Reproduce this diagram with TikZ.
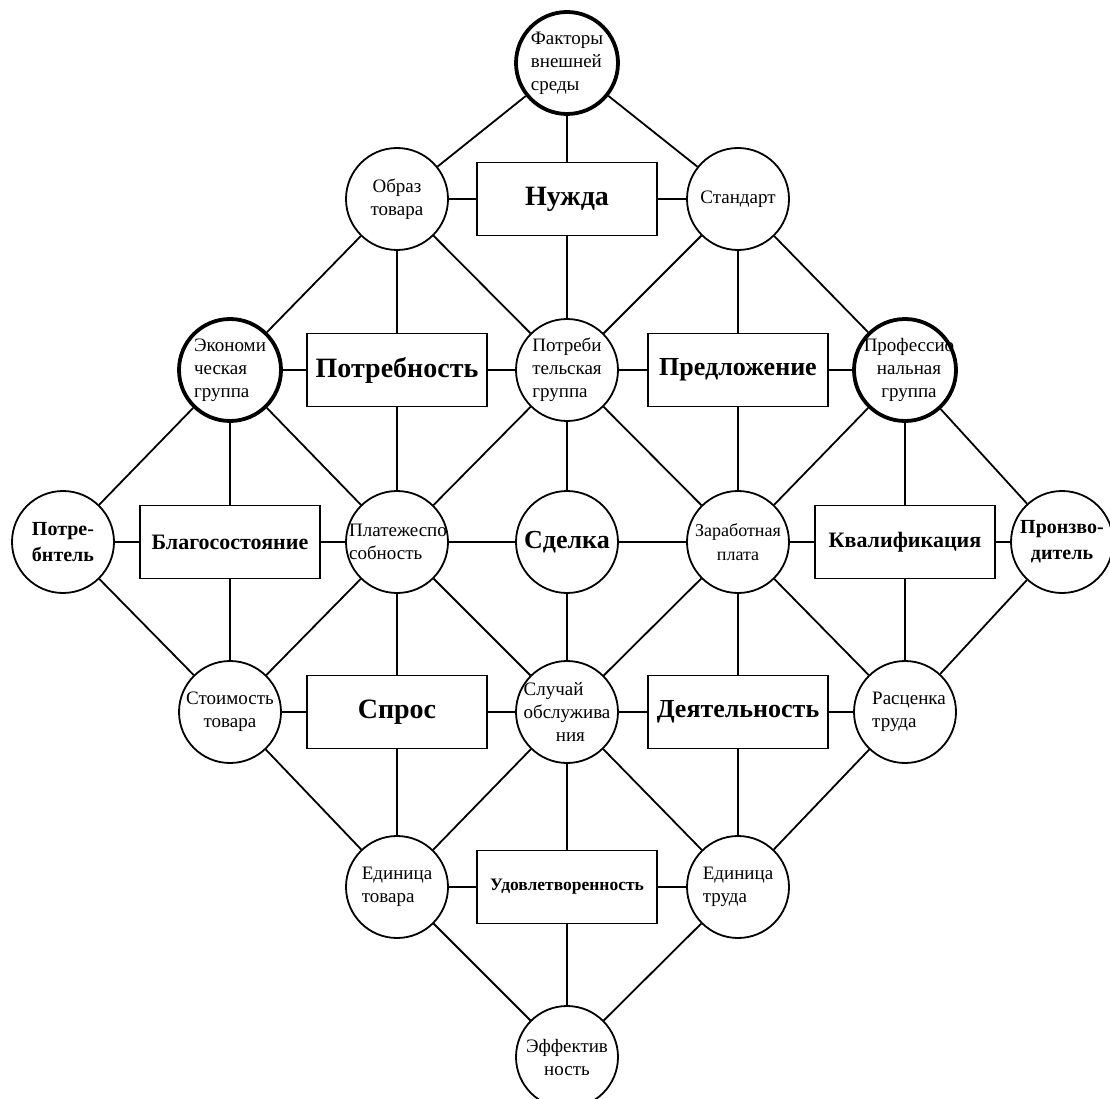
\documentclass[tikz,border=0pt]{standalone}
\usepackage{fontspec}
\setmainfont{Liberation Serif}
\begin{document}
\begin{tikzpicture}[x=1pt,y=-1pt,
  circ/.style={circle,draw,line width=1.8pt,minimum size=102pt,inner sep=0pt},
  thickc/.style={circ,line width=3.8pt},
  box/.style={rectangle,draw,line width=1.8pt,minimum width=180pt,minimum height=73pt,inner sep=0pt},
  ctext/.style={font=\fontsize{19}{23}\selectfont,align=center,inner sep=0pt},
  ltext/.style={ctext,align=left},
  btext/.style={font=\bfseries\fontsize{20}{26}\selectfont,align=center,inner sep=0pt},
  edge/.style={line width=1.8pt}]
\useasboundingbox (0,0) rectangle (1110,1099);

% circles
\node[thickc] (fak) at (567,63) {};
\node[circ] (obr) at (397,199) {};
\node[circ] (std) at (738,199) {};
\node[thickc] (eko) at (230,370) {};
\node[circ] (pgr) at (567,370) {};
\node[thickc] (prf) at (905,370) {};
\node[circ] (ptb) at (63,542) {};
\node[circ] (plt) at (397,542) {};
\node[circ] (sdl) at (567,542) {};
\node[circ] (zar) at (738,542) {};
\node[circ] (prz) at (1062,542) {};
\node[circ] (stm) at (230,712) {};
\node[circ] (slu) at (567,712) {};
\node[circ] (rsc) at (905,712) {};
\node[circ] (etv) at (397,887) {};
\node[circ] (etr) at (738,887) {};
\node[circ] (eff) at (567,1057) {};

% circle texts
\node[ltext] (fak-t) at (fak) {Факторы\\внешней\\среды};
\node[ctext] (obr-t) at (obr) {Образ\\товара};
\node[ctext] (std-t) at (std) {Стандарт};
\node[ltext] (eko-t) at (eko) {Экономи\\ческая\\группа};
\node[ltext] (pgr-t) at (pgr) {Потреби\\тельская\\группа};
\node[ctext] (prf-t) at ([xshift=4pt]prf.center) {Профессио\\нальная\\группа};
\node[btext] (ptb-t) at (ptb) {Потре-\\бнтель};
\node[ltext] (plt-t) at ([xshift=1pt]plt.center) {Платежеспо\\собность};
\node[btext,font=\bfseries\fontsize{26}{30}\selectfont] (sdl-t) at (sdl) {Сделка};
\node[ctext,font=\fontsize{18}{24}\selectfont] (zar-t) at (zar) {Заработная\\плата};
\node[btext] (prz-t) at (prz) {Пронзво-\\дитель};
\node[ctext] (stm-t) at (stm) {Стоимость\\товара};
\node[ltext] (slu-t) at (slu) {Случай\\обслужива\\\hspace*{1.7em}ния};
\node[ltext] (rsc-t) at ([xshift=4pt]rsc.center) {Расценка\\труда};
\node[ltext] (etv-t) at (etv) {Единица\\товара};
\node[ltext] (etr-t) at (etr) {Единица\\труда};
\node[ctext] (eff-t) at (eff) {Эффектив\\ность};

% boxes
\node[box,font=\bfseries\fontsize{28}{30}\selectfont] (nuz) at (567,199) {Нужда};
\node[box,font=\bfseries\fontsize{28}{30}\selectfont] (ptr) at (397,370) {Потребность};
\node[box,font=\bfseries\fontsize{26}{28}\selectfont] (prd) at (738,370) {Предложение};
\node[box,font=\bfseries\fontsize{22}{24}\selectfont] (blg) at (230,542) {Благосостояние};
\node[box,font=\bfseries\fontsize{22}{25}\selectfont] (kvl) at (905,542) {Квалификация};
\node[box,font=\bfseries\fontsize{28}{30}\selectfont] (spr) at (397,712) {Спрос};
\node[box,font=\bfseries\fontsize{26}{28}\selectfont] (dea) at (738,712) {Деятельность};
\node[box,font=\bfseries\fontsize{17.5}{22}\selectfont] (udv) at (567,887) {Удовлетворенность};

% diagonal edges
\draw[edge] (fak) -- (obr);
\draw[edge] (fak) -- (std);
\draw[edge] (obr) -- (eko);
\draw[edge] (obr) -- (pgr);
\draw[edge] (std) -- (pgr);
\draw[edge] (std) -- (prf);
\draw[edge] (eko) -- (ptb);
\draw[edge] (eko) -- (plt);
\draw[edge] (pgr) -- (plt);
\draw[edge] (pgr) -- (zar);
\draw[edge] (prf) -- (zar);
\draw[edge] (prf) -- (prz);
\draw[edge] (ptb) -- (stm);
\draw[edge] (plt) -- (stm);
\draw[edge] (plt) -- (slu);
\draw[edge] (zar) -- (slu);
\draw[edge] (zar) -- (rsc);
\draw[edge] (prz) -- (rsc);
\draw[edge] (stm) -- (etv);
\draw[edge] (slu) -- (etv);
\draw[edge] (slu) -- (etr);
\draw[edge] (rsc) -- (etr);
\draw[edge] (etv) -- (eff);
\draw[edge] (etr) -- (eff);

% box edges
\draw[edge] (fak) -- (nuz);
\draw[edge] (nuz) -- (pgr);
\draw[edge] (obr) -- (nuz);
\draw[edge] (nuz) -- (std);

\draw[edge] (obr) -- (ptr);
\draw[edge] (ptr) -- (plt);
\draw[edge] (eko) -- (ptr);
\draw[edge] (ptr) -- (pgr);

\draw[edge] (std) -- (prd);
\draw[edge] (prd) -- (zar);
\draw[edge] (pgr) -- (prd);
\draw[edge] (prd) -- (prf);

\draw[edge] (eko) -- (blg);
\draw[edge] (blg) -- (stm);
\draw[edge] (ptb) -- (blg);
\draw[edge] (blg) -- (plt);

\draw[edge] (pgr) -- (sdl);
\draw[edge] (sdl) -- (slu);
\draw[edge] (plt) -- (sdl);
\draw[edge] (sdl) -- (zar);

\draw[edge] (prf) -- (kvl);
\draw[edge] (kvl) -- (rsc);
\draw[edge] (zar) -- (kvl);
\draw[edge] (kvl) -- (prz);

\draw[edge] (plt) -- (spr);
\draw[edge] (spr) -- (etv);
\draw[edge] (stm) -- (spr);
\draw[edge] (spr) -- (slu);

\draw[edge] (zar) -- (dea);
\draw[edge] (dea) -- (etr);
\draw[edge] (slu) -- (dea);
\draw[edge] (dea) -- (rsc);

\draw[edge] (slu) -- (udv);
\draw[edge] (udv) -- (eff);
\draw[edge] (etv) -- (udv);
\draw[edge] (udv) -- (etr);
\end{tikzpicture}
\end{document}
